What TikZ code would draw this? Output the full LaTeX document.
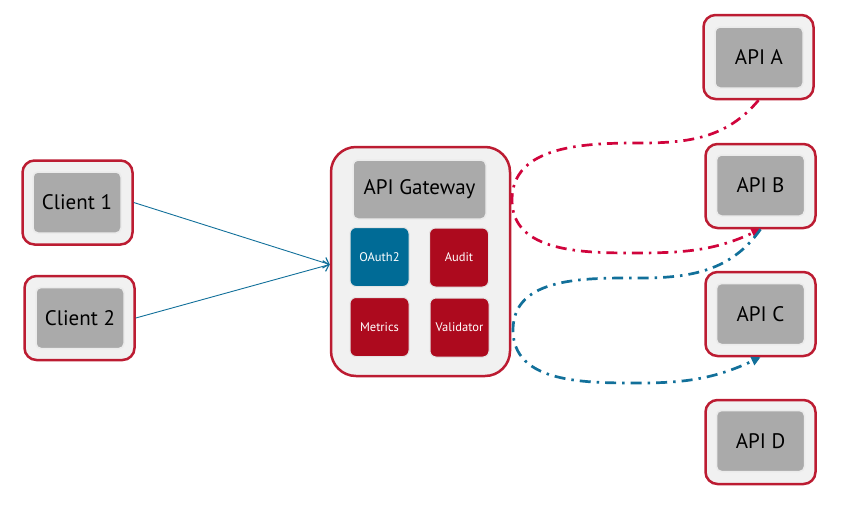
\documentclass[tikz,border=0pt]{standalone}
\usepackage{fontspec}
\setmainfont{PT Sans}
\usetikzlibrary{arrows.meta}
\definecolor{boxred}{HTML}{BC1C32}
\definecolor{boxfill}{HTML}{F1F1F1}
\definecolor{boxgray}{HTML}{AAAAAA}
\definecolor{modred}{HTML}{AD0A1E}
\definecolor{modblue}{HTML}{006B96}
\definecolor{linkred}{HTML}{D0043C}
\definecolor{linkblue}{HTML}{12709A}
\tikzset{
  outerbox/.style={draw=boxred, line width=2.5pt, fill=boxfill, rounded corners=12pt,
    minimum width=110pt, minimum height=84pt, inner sep=0pt},
  innerbox/.style={draw=white!92!black, line width=1.5pt, fill=boxgray, rounded corners=5pt,
    minimum width=88pt, minimum height=61pt, inner sep=0pt, font=\fontsize{21}{24}\selectfont},
  gatebox/.style={draw=boxred, line width=2.5pt, fill=boxfill, rounded corners=25pt,
    minimum width=179pt, minimum height=229pt, inner sep=0pt},
  module/.style={draw=white!90!black, line width=1pt, rounded corners=6pt, text=white,
    minimum width=59pt, minimum height=59pt, inner sep=0pt, font=\fontsize{12.5}{14}\selectfont},
  request/.style={draw=linkblue, line width=0.9pt, -{Straight Barb[length=5pt,width=11pt,line width=1.2pt]}},
  route/.style={line width=2.7pt, dash pattern=on 11pt off 6pt on 2.5pt off 6pt,
    -{Triangle[length=9pt,width=9pt]}},
}
\begin{document}
\begin{tikzpicture}[x=1pt,y=-1pt]
\useasboundingbox (0,0) rectangle (846,520);

% clients
\node[outerbox] (c1) at (77.5,202.5) {};
\node[innerbox] (c1i) at (77,202.5) {Client 1};
\node[outerbox] (c2) at (79.5,318) {};
\node[innerbox] (c2i) at (80,318) {Client 2};

% gateway with its modules
\node[gatebox] (gw) at (420.5,261.5) {};
\node[innerbox, minimum width=133pt, minimum height=59pt] (gwh) at (419.5,189.5) {API Gateway};
\node[module, fill=modblue] (oauth) at (379.5,257) {OAuth2};
\node[module, fill=modred] (audit) at (459,257.5) {Audit};
\node[module, fill=modred] (metrics) at (379.5,327) {Metrics};
\node[module, fill=modred] (valid) at (459.5,327.5) {Validator};

% backend services
\node[outerbox] (apia) at (758.5,57) {};
\node[innerbox] (apiai) at (759,57.5) {API A};
\node[outerbox] (apib) at (760.5,186) {};
\node[innerbox] (apibi) at (760.5,185.5) {API B};
\node[outerbox] (apic) at (760.5,314) {};
\node[innerbox] (apici) at (760.5,314) {API C};
\node[outerbox] (apid) at (760.5,442) {};
\node[innerbox] (apidi) at (760.5,441) {API D};

% incoming requests
\coordinate (gin) at ([yshift=-3pt]gw.west);
\draw[request] (c1.east) -- (gin);
\draw[request] (c2.east) -- (gin);

% routed traffic
\draw[route, draw=linkred] (apia.south) to[out=-130,in=0] (640,143)
  to[out=180,in=90] (512,200) to[out=-90,in=180] (635,253)
  to[out=0,in=-155] (apib.south);
\draw[route, draw=linkblue] (apib.south) to[out=-125,in=0] (640,278)
  to[out=180,in=90] (513,330) to[out=-90,in=180] (640,383)
  to[out=0,in=-155] (apic.south);
\end{tikzpicture}
\end{document}
